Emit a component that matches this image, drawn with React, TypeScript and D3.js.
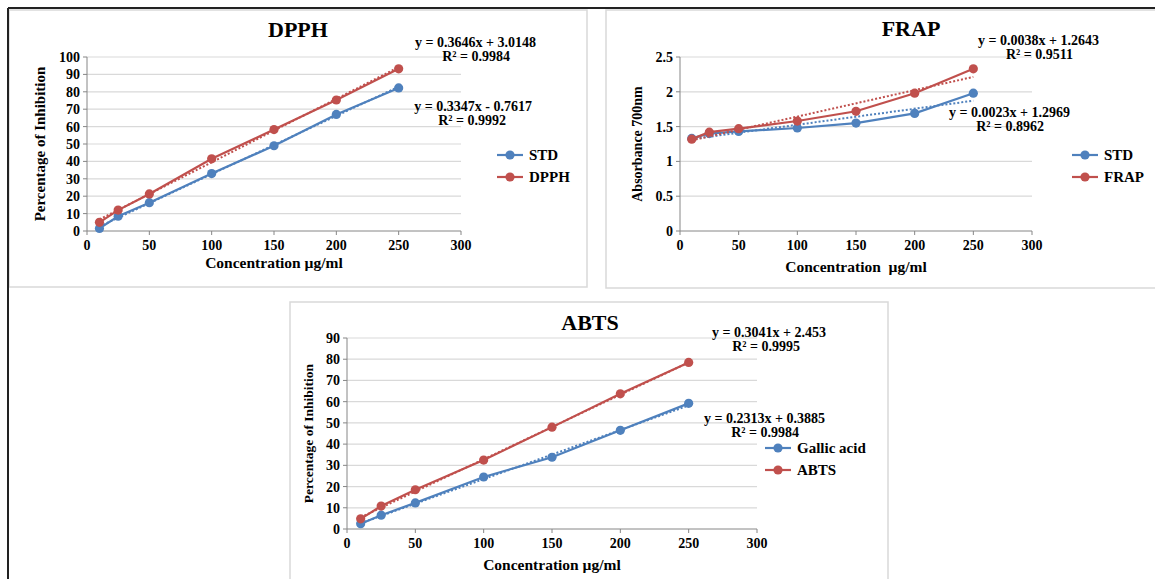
import React from "react";
import * as d3 from "d3";

const FONT = "'Liberation Serif', 'Times New Roman', serif";
const BLUE = "#4f81bd";
const RED = "#c0504d";

// concentrations (µg/ml)
const conc = [10, 25, 50, 100, 150, 200, 250];
const xTicks = [0, 50, 100, 150, 200, 250, 300];

// DPPH assay
const dpphStd = [1.5, 8.5, 16.3, 33, 49, 67, 82.2];
const dpphSample = [5, 12, 21.3, 41.5, 58.3, 75.3, 93.2];
const dpphTicks = [0, 10, 20, 30, 40, 50, 60, 70, 80, 90, 100];

// FRAP assay
const frapStd = [1.33, 1.4, 1.43, 1.48, 1.55, 1.69, 1.98];
const frapSample = [1.32, 1.42, 1.47, 1.58, 1.72, 1.98, 2.33];
const frapTicks = [0, 0.5, 1, 1.5, 2, 2.5];

// ABTS assay
const abtsStd = [2.5, 6.5, 12.3, 24.5, 33.8, 46.5, 59.2];
const abtsSample = [4.8, 10.8, 18.5, 32.5, 48, 63.7, 78.5];
const abtsTicks = [0, 10, 20, 30, 40, 50, 60, 70, 80, 90];

// linear trendlines as printed on the chart: [slope, intercept, eq text, r2 text]
const dpphTrend = [
  [0.3347, -0.7617, "y = 0.3347x - 0.7617", "R² = 0.9992"],
  [0.3646, 3.0148, "y = 0.3646x + 3.0148", "R² = 0.9984"],
];
const frapTrend = [
  [0.0023, 1.2969, "y = 0.0023x + 1.2969", "R² = 0.8962"],
  [0.0038, 1.2643, "y = 0.0038x + 1.2643", "R² = 0.9511"],
];
const abtsTrend = [
  [0.2313, 0.3885, "y = 0.2313x + 0.3885", "R² = 0.9984"],
  [0.3041, 2.453, "y = 0.3041x + 2.453", "R² = 0.9995"],
];

type PanelProps = {
  title: string;
  titleX: number;
  titleY: number;
  plot: { x0: number; x1: number; y0: number; y1: number };
  yTicks: number[];
  series: { name: string; color: string; values: number[] }[];
  trends: any[];
  eqPos: { x: number; y: number }[];
  legend: { x: number; y: number };
  xTitle: string;
  xTitleY: number;
  yTitle: string;
  yTitleX: number;
  yTitleSize: number;
};

const Panel = (p: PanelProps) => {
  const { plot } = p;
  const x = d3.scaleLinear().domain([0, 300]).range([plot.x0, plot.x1]);
  const yMax = p.yTicks[p.yTicks.length - 1];
  const y = d3.scaleLinear().domain([0, yMax]).range([plot.y1, plot.y0]);
  const line = d3
    .line<number>()
    .x((_, i) => x(conc[i]))
    .y((d) => y(d));

  return (
    <g fontFamily={FONT} fontWeight="bold" fill="#000">
      <text x={p.titleX} y={p.titleY} fontSize={22} textAnchor="middle">
        {p.title}
      </text>
      {/* gridlines */}
      {p.yTicks.map((t) =>
        t === 0 ? null : (
          <line
            key={"g" + t}
            x1={plot.x0}
            x2={plot.x1}
            y1={y(t)}
            y2={y(t)}
            stroke="#d9d9d9"
            strokeWidth={1.2}
          />
        )
      )}
      {/* axes */}
      <line x1={plot.x0} x2={plot.x0} y1={plot.y0} y2={plot.y1} stroke="#868686" />
      <line x1={plot.x0} x2={plot.x1} y1={plot.y1} y2={plot.y1} stroke="#868686" />
      {p.yTicks.map((t) => (
        <g key={"y" + t}>
          <line x1={plot.x0 - 4} x2={plot.x0} y1={y(t)} y2={y(t)} stroke="#868686" />
          <text x={plot.x0 - 7} y={y(t) + 5} fontSize={14} textAnchor="end">
            {String(t)}
          </text>
        </g>
      ))}
      {xTicks.map((t) => (
        <g key={"x" + t}>
          <line x1={x(t)} x2={x(t)} y1={plot.y1} y2={plot.y1 + 4} stroke="#868686" />
          <text x={x(t)} y={plot.y1 + 19} fontSize={14} textAnchor="middle">
            {t}
          </text>
        </g>
      ))}
      <text
        x={(plot.x0 + plot.x1) / 2}
        y={p.xTitleY}
        fontSize={15.5}
        textAnchor="middle"
        style={{ whiteSpace: "pre" }}
      >
        {p.xTitle}
      </text>
      <text
        transform={`translate(${p.yTitleX},${(plot.y0 + plot.y1) / 2}) rotate(-90)`}
        fontSize={p.yTitleSize}
        textAnchor="middle"
      >
        {p.yTitle}
      </text>
      {/* series */}
      {p.series.map((s, si) => {
        const [m, b] = p.trends[si];
        return (
          <g key={s.name}>
            <path d={line(s.values) || ""} fill="none" stroke={s.color} strokeWidth={2.2} />
            {s.values.map((v, i) => (
              <circle key={i} cx={x(conc[i])} cy={y(v)} r={4.6} fill={s.color} />
            ))}
            <line
              x1={x(10)}
              x2={x(250)}
              y1={y(m * 10 + b)}
              y2={y(m * 250 + b)}
              stroke={s.color}
              strokeWidth={2}
              strokeDasharray="2 2"
            />
          </g>
        );
      })}
      {/* trend equations */}
      {p.trends.map((t, i) => (
        <g key={"eq" + i} fontSize={14}>
          <text x={p.eqPos[i].x} y={p.eqPos[i].y} textAnchor="end">
            {t[2]}
          </text>
          <text x={p.eqPos[i].x - 26} y={p.eqPos[i].y + 14} textAnchor="end">
            {t[3]}
          </text>
        </g>
      ))}
      {/* legend */}
      {p.series.map((s, i) => (
        <g key={"l" + s.name} transform={`translate(${p.legend.x},${p.legend.y + i * 22})`}>
          <line x1={0} x2={26} y1={0} y2={0} stroke={s.color} strokeWidth={2.2} />
          <circle cx={13} cy={0} r={4.6} fill={s.color} />
          <text x={32} y={5} fontSize={15} >
            {s.name}
          </text>
        </g>
      ))}
    </g>
  );
};

export default function App() {
  return (
    <svg
      width={1155}
      height={579}
      style={{ position: "absolute", left: 0, top: 0, background: "#fff" }}
    >
      <rect width={1155} height={579} fill="#fff" />
      {/* panel frames */}
      <rect x={9} y={10} width={578} height={277} fill="none" stroke="#d9d9d9" strokeWidth={1.5} />
      <rect x={606} y={10} width={560} height={278} fill="none" stroke="#d9d9d9" strokeWidth={1.5} />
      <rect x={290} y={302} width={598} height={290} fill="none" stroke="#d9d9d9" strokeWidth={1.5} />
      <line x1={8} x2={1155} y1={8} y2={8} stroke="#222" strokeWidth={2} />
      <line x1={8} x2={8} y1={8} y2={579} stroke="#222" strokeWidth={2} />

      <Panel
        title="DPPH"
        titleX={298}
        titleY={37}
        plot={{ x0: 87, x1: 461, y0: 57, y1: 231 }}
        yTicks={dpphTicks}
        series={[
          { name: "STD", color: BLUE, values: dpphStd },
          { name: "DPPH", color: RED, values: dpphSample },
        ]}
        trends={dpphTrend}
        eqPos={[
          { x: 532, y: 111 },
          { x: 536, y: 47 },
        ]}
        legend={{ x: 497, y: 155 }}
        xTitle="Concentration µg/ml"
        xTitleY={268}
        yTitle="Percentage of Inhibition"
        yTitleX={45}
        yTitleSize={15}
      />
      <Panel
        title="FRAP"
        titleX={911}
        titleY={36}
        plot={{ x0: 680, x1: 1032, y0: 57, y1: 231 }}
        yTicks={frapTicks}
        series={[
          { name: "STD", color: BLUE, values: frapStd },
          { name: "FRAP", color: RED, values: frapSample },
        ]}
        trends={frapTrend}
        eqPos={[
          { x: 1070, y: 117 },
          { x: 1099, y: 45 },
        ]}
        legend={{ x: 1072, y: 155 }}
        xTitle="Concentration  µg/ml"
        xTitleY={272}
        yTitle="Absorbance 700nm"
        yTitleX={642}
        yTitleSize={14}
      />
      <Panel
        title="ABTS"
        titleX={590}
        titleY={330}
        plot={{ x0: 347, x1: 757, y0: 338, y1: 529 }}
        yTicks={abtsTicks}
        series={[
          { name: "Gallic acid", color: BLUE, values: abtsStd },
          { name: "ABTS", color: RED, values: abtsSample },
        ]}
        trends={abtsTrend}
        eqPos={[
          { x: 825, y: 423 },
          { x: 826, y: 337 },
        ]}
        legend={{ x: 765, y: 448 }}
        xTitle="Concentration µg/ml"
        xTitleY={570}
        yTitle="Percentage of Inhibition"
        yTitleX={313}
        yTitleSize={13.5}
      />
    </svg>
  );
}
